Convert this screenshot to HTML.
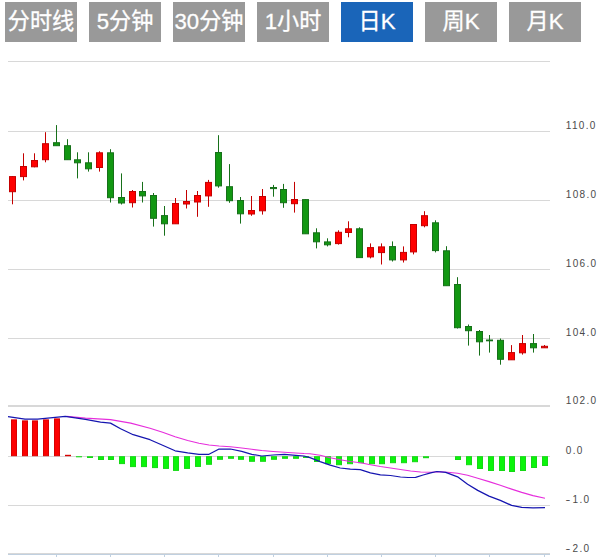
<!DOCTYPE html>
<html lang="zh"><head><meta charset="utf-8"><title>K线图</title>
<style>
html,body{margin:0;padding:0;background:#fff;}
body{width:613px;height:557px;overflow:hidden;position:relative;font-family:"Liberation Sans","Noto Sans CJK SC",sans-serif;}
.tabs{position:absolute;left:5px;top:2px;height:40px;white-space:nowrap;}
.tab{position:absolute;top:0;width:72px;height:39.5px;line-height:39px;background:#999;color:#fff;font-size:22.2px;text-align:center;-webkit-text-stroke:0.3px #fff;}
.tab.on{background:#1a65b9;}
svg{position:absolute;left:0;top:0;}
svg text{font-family:"Liberation Sans",sans-serif;font-size:10px;letter-spacing:1.3px;fill:#4a4a4a;}
</style></head><body>
<div class="tabs">
<div class="tab" style="left:0">分时线</div>
<div class="tab" style="left:84px">5分钟</div>
<div class="tab" style="left:168px">30分钟</div>
<div class="tab" style="left:252px">1小时</div>
<div class="tab on" style="left:336px">日K</div>
<div class="tab" style="left:420px">周K</div>
<div class="tab" style="left:504px">月K</div>
</div>
<svg width="613" height="557" viewBox="0 0 613 557">

<line x1="8" x2="550" y1="61.5" y2="61.5" stroke="#d8d8d8" stroke-width="1"/>
<line x1="8" x2="550" y1="131.5" y2="131.5" stroke="#d8d8d8" stroke-width="1"/>
<line x1="8" x2="550" y1="200.5" y2="200.5" stroke="#d8d8d8" stroke-width="1"/>
<line x1="8" x2="550" y1="269.5" y2="269.5" stroke="#d8d8d8" stroke-width="1"/>
<line x1="8" x2="550" y1="338.5" y2="338.5" stroke="#d8d8d8" stroke-width="1"/>
<line x1="8" x2="550" y1="405.5" y2="405.5" stroke="#d8d8d8" stroke-width="1"/>
<line x1="8" x2="550" y1="456.5" y2="456.5" stroke="#d8d8d8" stroke-width="1"/>
<line x1="8" x2="550" y1="505.5" y2="505.5" stroke="#d8d8d8" stroke-width="1"/>
<line x1="8" x2="550" y1="406.5" y2="406.5" stroke="#d8d8d8" stroke-width="1"/>
<line x1="8" x2="550" y1="553.5" y2="553.5" stroke="#d8d8d8" stroke-width="1"/>
<line x1="8" x2="550" y1="554.5" y2="554.5" stroke="#c0d0e0" stroke-width="1"/>
<line x1="56.5" x2="56.5" y1="554" y2="560" stroke="#c0d0e0" stroke-width="1"/>
<line x1="110.5" x2="110.5" y1="554" y2="560" stroke="#c0d0e0" stroke-width="1"/>
<line x1="164.5" x2="164.5" y1="554" y2="560" stroke="#c0d0e0" stroke-width="1"/>
<line x1="218.5" x2="218.5" y1="554" y2="560" stroke="#c0d0e0" stroke-width="1"/>
<line x1="273.5" x2="273.5" y1="554" y2="560" stroke="#c0d0e0" stroke-width="1"/>
<line x1="327.5" x2="327.5" y1="554" y2="560" stroke="#c0d0e0" stroke-width="1"/>
<line x1="381.5" x2="381.5" y1="554" y2="560" stroke="#c0d0e0" stroke-width="1"/>
<line x1="435.5" x2="435.5" y1="554" y2="560" stroke="#c0d0e0" stroke-width="1"/>
<line x1="489.5" x2="489.5" y1="554" y2="560" stroke="#c0d0e0" stroke-width="1"/>
<line x1="544.5" x2="544.5" y1="554" y2="560" stroke="#c0d0e0" stroke-width="1"/>
<text x="565.8" y="128.6">110.0</text>
<text x="565.8" y="197.6">108.0</text>
<text x="565.8" y="266.6">106.0</text>
<text x="565.8" y="335.7">104.0</text>
<text x="565.8" y="403.6">102.0</text>
<text x="565.8" y="453.8">0.0</text>
<text transform="translate(565.6,503.0) scale(1.45,1)">-</text><text x="572.6" y="503.0">1.0</text>
<text transform="translate(565.6,552.2) scale(1.45,1)">-</text><text x="572.6" y="552.2">2.0</text>
<rect x="11.50" y="419.9" width="5" height="35.8" fill="#fc0000" stroke="#d80000" stroke-width="1"/>
<rect x="22.50" y="420.9" width="5" height="34.8" fill="#fc0000" stroke="#d80000" stroke-width="1"/>
<rect x="32.50" y="420.9" width="5" height="34.8" fill="#fc0000" stroke="#d80000" stroke-width="1"/>
<rect x="43.50" y="419.9" width="5" height="35.8" fill="#fc0000" stroke="#d80000" stroke-width="1"/>
<rect x="54.50" y="418.9" width="5" height="36.8" fill="#fc0000" stroke="#d80000" stroke-width="1"/>
<rect x="65.00" y="454.8" width="6" height="1.4" fill="#d80000"/>
<rect x="76.00" y="456.2" width="6" height="1.1" fill="#16d816"/>
<rect x="87.00" y="456.2" width="6" height="1.8" fill="#16d816"/>
<rect x="98.50" y="456.7" width="5" height="2.8" fill="#0af50a" stroke="#16d816" stroke-width="1"/>
<rect x="108.50" y="456.7" width="5" height="2.8" fill="#0af50a" stroke="#16d816" stroke-width="1"/>
<rect x="119.50" y="456.7" width="5" height="6.9" fill="#0af50a" stroke="#16d816" stroke-width="1"/>
<rect x="130.50" y="456.7" width="5" height="9.9" fill="#0af50a" stroke="#16d816" stroke-width="1"/>
<rect x="141.50" y="456.7" width="5" height="9.9" fill="#0af50a" stroke="#16d816" stroke-width="1"/>
<rect x="152.50" y="456.7" width="5" height="10.9" fill="#0af50a" stroke="#16d816" stroke-width="1"/>
<rect x="163.50" y="456.7" width="5" height="11.7" fill="#0af50a" stroke="#16d816" stroke-width="1"/>
<rect x="173.50" y="456.7" width="5" height="13.7" fill="#0af50a" stroke="#16d816" stroke-width="1"/>
<rect x="184.50" y="456.7" width="5" height="11.7" fill="#0af50a" stroke="#16d816" stroke-width="1"/>
<rect x="195.50" y="456.7" width="5" height="9.7" fill="#0af50a" stroke="#16d816" stroke-width="1"/>
<rect x="206.50" y="456.7" width="5" height="7.6" fill="#0af50a" stroke="#16d816" stroke-width="1"/>
<rect x="217.50" y="456.7" width="5" height="2.6" fill="#0af50a" stroke="#16d816" stroke-width="1"/>
<rect x="228.50" y="456.7" width="5" height="1.6" fill="#0af50a" stroke="#16d816" stroke-width="1"/>
<rect x="238.50" y="456.7" width="5" height="2.6" fill="#0af50a" stroke="#16d816" stroke-width="1"/>
<rect x="249.50" y="456.7" width="5" height="4.6" fill="#0af50a" stroke="#16d816" stroke-width="1"/>
<rect x="260.50" y="456.7" width="5" height="4.6" fill="#0af50a" stroke="#16d816" stroke-width="1"/>
<rect x="271.50" y="456.7" width="5" height="2.6" fill="#0af50a" stroke="#16d816" stroke-width="1"/>
<rect x="282.50" y="456.7" width="5" height="1.6" fill="#0af50a" stroke="#16d816" stroke-width="1"/>
<rect x="293.50" y="456.7" width="5" height="1.6" fill="#0af50a" stroke="#16d816" stroke-width="1"/>
<rect x="303.00" y="456.2" width="6" height="1.8" fill="#16d816"/>
<rect x="314.50" y="456.7" width="5" height="4.8" fill="#0af50a" stroke="#16d816" stroke-width="1"/>
<rect x="325.50" y="456.7" width="5" height="7.0" fill="#0af50a" stroke="#16d816" stroke-width="1"/>
<rect x="336.50" y="456.7" width="5" height="8.0" fill="#0af50a" stroke="#16d816" stroke-width="1"/>
<rect x="347.50" y="456.7" width="5" height="7.0" fill="#0af50a" stroke="#16d816" stroke-width="1"/>
<rect x="358.50" y="456.7" width="5" height="6.0" fill="#0af50a" stroke="#16d816" stroke-width="1"/>
<rect x="369.50" y="456.7" width="5" height="7.0" fill="#0af50a" stroke="#16d816" stroke-width="1"/>
<rect x="379.50" y="456.7" width="5" height="7.0" fill="#0af50a" stroke="#16d816" stroke-width="1"/>
<rect x="390.50" y="456.7" width="5" height="6.0" fill="#0af50a" stroke="#16d816" stroke-width="1"/>
<rect x="401.50" y="456.7" width="5" height="6.0" fill="#0af50a" stroke="#16d816" stroke-width="1"/>
<rect x="412.50" y="456.7" width="5" height="5.0" fill="#0af50a" stroke="#16d816" stroke-width="1"/>
<rect x="423.00" y="456.2" width="6" height="2.0" fill="#16d816"/>
<rect x="455.50" y="456.7" width="5" height="2.8" fill="#0af50a" stroke="#16d816" stroke-width="1"/>
<rect x="466.50" y="456.7" width="5" height="8.0" fill="#0af50a" stroke="#16d816" stroke-width="1"/>
<rect x="477.50" y="456.7" width="5" height="11.8" fill="#0af50a" stroke="#16d816" stroke-width="1"/>
<rect x="488.50" y="456.7" width="5" height="13.8" fill="#0af50a" stroke="#16d816" stroke-width="1"/>
<rect x="499.50" y="456.7" width="5" height="13.8" fill="#0af50a" stroke="#16d816" stroke-width="1"/>
<rect x="509.50" y="456.7" width="5" height="14.8" fill="#0af50a" stroke="#16d816" stroke-width="1"/>
<rect x="520.50" y="456.7" width="5" height="13.8" fill="#0af50a" stroke="#16d816" stroke-width="1"/>
<rect x="531.50" y="456.7" width="5" height="10.8" fill="#0af50a" stroke="#16d816" stroke-width="1"/>
<rect x="542.50" y="456.7" width="5" height="8.8" fill="#0af50a" stroke="#16d816" stroke-width="1"/>
<line x1="12.50" x2="12.50" y1="176.1" y2="204.3" stroke="#c40000" stroke-width="1"/>
<rect x="9.50" y="176.6" width="6" height="15.1" fill="#ff0000" stroke="#c40000" stroke-width="1"/>
<line x1="23.50" x2="23.50" y1="153.3" y2="180.4" stroke="#c40000" stroke-width="1"/>
<rect x="20.50" y="166.5" width="6" height="10.1" fill="#ff0000" stroke="#c40000" stroke-width="1"/>
<line x1="34.50" x2="34.50" y1="153.3" y2="167.3" stroke="#c40000" stroke-width="1"/>
<rect x="31.50" y="160.5" width="6" height="6.3" fill="#ff0000" stroke="#c40000" stroke-width="1"/>
<line x1="45.50" x2="45.50" y1="132.2" y2="162.3" stroke="#c40000" stroke-width="1"/>
<rect x="42.50" y="143.7" width="6" height="16.0" fill="#ff0000" stroke="#c40000" stroke-width="1"/>
<line x1="56.50" x2="56.50" y1="125.1" y2="145.5" stroke="#17701a" stroke-width="1"/>
<rect x="53.50" y="142.7" width="6" height="3.0" fill="#129712" stroke="#17701a" stroke-width="1"/>
<line x1="67.50" x2="67.50" y1="139.2" y2="159.5" stroke="#17701a" stroke-width="1"/>
<rect x="64.50" y="145.7" width="6" height="14.0" fill="#129712" stroke="#17701a" stroke-width="1"/>
<line x1="77.50" x2="77.50" y1="152.3" y2="178.4" stroke="#17701a" stroke-width="1"/>
<rect x="74.50" y="159.8" width="6" height="3.0" fill="#129712" stroke="#17701a" stroke-width="1"/>
<line x1="88.50" x2="88.50" y1="152.3" y2="171.6" stroke="#17701a" stroke-width="1"/>
<rect x="85.50" y="162.8" width="6" height="6.0" fill="#129712" stroke="#17701a" stroke-width="1"/>
<line x1="99.50" x2="99.50" y1="151.3" y2="171.6" stroke="#c40000" stroke-width="1"/>
<rect x="96.50" y="152.8" width="6" height="14.7" fill="#ff0000" stroke="#c40000" stroke-width="1"/>
<line x1="110.50" x2="110.50" y1="149.2" y2="202.5" stroke="#17701a" stroke-width="1"/>
<rect x="107.50" y="152.8" width="6" height="44.9" fill="#129712" stroke="#17701a" stroke-width="1"/>
<line x1="121.50" x2="121.50" y1="173.4" y2="204.5" stroke="#17701a" stroke-width="1"/>
<rect x="118.50" y="197.5" width="6" height="5.5" fill="#129712" stroke="#17701a" stroke-width="1"/>
<line x1="132.50" x2="132.50" y1="190" y2="207.5" stroke="#c40000" stroke-width="1"/>
<rect x="129.50" y="191.5" width="6" height="11.2" fill="#ff0000" stroke="#c40000" stroke-width="1"/>
<line x1="142.50" x2="142.50" y1="181.9" y2="202.5" stroke="#17701a" stroke-width="1"/>
<rect x="139.50" y="191.5" width="6" height="4.4" fill="#129712" stroke="#17701a" stroke-width="1"/>
<line x1="153.50" x2="153.50" y1="193" y2="226.6" stroke="#17701a" stroke-width="1"/>
<rect x="150.50" y="195.5" width="6" height="22.8" fill="#129712" stroke="#17701a" stroke-width="1"/>
<line x1="164.50" x2="164.50" y1="206" y2="235.7" stroke="#17701a" stroke-width="1"/>
<rect x="161.50" y="215.6" width="6" height="8.2" fill="#129712" stroke="#17701a" stroke-width="1"/>
<line x1="175.50" x2="175.50" y1="198" y2="223.6" stroke="#c40000" stroke-width="1"/>
<rect x="172.50" y="203.5" width="6" height="20.3" fill="#ff0000" stroke="#c40000" stroke-width="1"/>
<line x1="186.50" x2="186.50" y1="190" y2="208.5" stroke="#c40000" stroke-width="1"/>
<rect x="183.50" y="201.5" width="6" height="2.5" fill="#ff0000" stroke="#c40000" stroke-width="1"/>
<line x1="197.50" x2="197.50" y1="191" y2="216.8" stroke="#c40000" stroke-width="1"/>
<rect x="194.50" y="195.5" width="6" height="6.5" fill="#ff0000" stroke="#c40000" stroke-width="1"/>
<line x1="208.50" x2="208.50" y1="179.9" y2="206.8" stroke="#c40000" stroke-width="1"/>
<rect x="205.50" y="182.4" width="6" height="13.5" fill="#ff0000" stroke="#c40000" stroke-width="1"/>
<line x1="218.50" x2="218.50" y1="135.2" y2="187.7" stroke="#17701a" stroke-width="1"/>
<rect x="215.50" y="152.5" width="6" height="33.4" fill="#129712" stroke="#17701a" stroke-width="1"/>
<line x1="229.50" x2="229.50" y1="164.1" y2="202.8" stroke="#17701a" stroke-width="1"/>
<rect x="226.50" y="186.7" width="6" height="14.0" fill="#129712" stroke="#17701a" stroke-width="1"/>
<line x1="240.50" x2="240.50" y1="197" y2="223.6" stroke="#17701a" stroke-width="1"/>
<rect x="237.50" y="200.5" width="6" height="13.3" fill="#129712" stroke="#17701a" stroke-width="1"/>
<line x1="251.50" x2="251.50" y1="196" y2="215.8" stroke="#c40000" stroke-width="1"/>
<rect x="248.50" y="210.5" width="6" height="3.5" fill="#ff0000" stroke="#c40000" stroke-width="1"/>
<line x1="262.50" x2="262.50" y1="189" y2="214.6" stroke="#c40000" stroke-width="1"/>
<rect x="259.50" y="196.5" width="6" height="14.3" fill="#ff0000" stroke="#c40000" stroke-width="1"/>
<line x1="273.50" x2="273.50" y1="184.9" y2="196.7" stroke="#17701a" stroke-width="1"/>
<rect x="270.50" y="187.5" width="6" height="1.1" fill="#129712" stroke="#17701a" stroke-width="1"/>
<line x1="283.50" x2="283.50" y1="183.9" y2="207.8" stroke="#17701a" stroke-width="1"/>
<rect x="280.50" y="189.5" width="6" height="13.2" fill="#129712" stroke="#17701a" stroke-width="1"/>
<line x1="294.50" x2="294.50" y1="181.9" y2="212.6" stroke="#c40000" stroke-width="1"/>
<rect x="291.50" y="199.5" width="6" height="4.2" fill="#ff0000" stroke="#c40000" stroke-width="1"/>
<line x1="305.50" x2="305.50" y1="199.1" y2="233.6" stroke="#17701a" stroke-width="1"/>
<rect x="302.50" y="199.6" width="6" height="34.2" fill="#129712" stroke="#17701a" stroke-width="1"/>
<line x1="316.50" x2="316.50" y1="228.3" y2="248.4" stroke="#17701a" stroke-width="1"/>
<rect x="313.50" y="232.8" width="6" height="9.0" fill="#129712" stroke="#17701a" stroke-width="1"/>
<line x1="327.50" x2="327.50" y1="238.3" y2="246.4" stroke="#17701a" stroke-width="1"/>
<rect x="324.50" y="241.9" width="6" height="2.9" fill="#129712" stroke="#17701a" stroke-width="1"/>
<line x1="338.50" x2="338.50" y1="230.3" y2="244.6" stroke="#c40000" stroke-width="1"/>
<rect x="335.50" y="232.3" width="6" height="11.3" fill="#ff0000" stroke="#c40000" stroke-width="1"/>
<line x1="348.50" x2="348.50" y1="221.3" y2="237.3" stroke="#c40000" stroke-width="1"/>
<rect x="345.50" y="228.8" width="6" height="3.7" fill="#ff0000" stroke="#c40000" stroke-width="1"/>
<line x1="359.50" x2="359.50" y1="227.3" y2="257.4" stroke="#17701a" stroke-width="1"/>
<rect x="356.50" y="228.8" width="6" height="28.8" fill="#129712" stroke="#17701a" stroke-width="1"/>
<line x1="370.50" x2="370.50" y1="243.4" y2="258.4" stroke="#c40000" stroke-width="1"/>
<rect x="367.50" y="247.6" width="6" height="9.3" fill="#ff0000" stroke="#c40000" stroke-width="1"/>
<line x1="381.50" x2="381.50" y1="243.4" y2="264.5" stroke="#c40000" stroke-width="1"/>
<rect x="378.50" y="246.9" width="6" height="5.7" fill="#ff0000" stroke="#c40000" stroke-width="1"/>
<line x1="392.50" x2="392.50" y1="241.4" y2="261.5" stroke="#17701a" stroke-width="1"/>
<rect x="389.50" y="246.6" width="6" height="13.3" fill="#129712" stroke="#17701a" stroke-width="1"/>
<line x1="403.50" x2="403.50" y1="246.4" y2="262.5" stroke="#c40000" stroke-width="1"/>
<rect x="400.50" y="252.4" width="6" height="7.5" fill="#ff0000" stroke="#c40000" stroke-width="1"/>
<line x1="413.50" x2="413.50" y1="224" y2="254.4" stroke="#c40000" stroke-width="1"/>
<rect x="410.50" y="224.5" width="6" height="27.4" fill="#ff0000" stroke="#c40000" stroke-width="1"/>
<line x1="424.50" x2="424.50" y1="211.2" y2="227.3" stroke="#c40000" stroke-width="1"/>
<rect x="421.50" y="215.7" width="6" height="10.0" fill="#ff0000" stroke="#c40000" stroke-width="1"/>
<line x1="435.50" x2="435.50" y1="220.3" y2="252.4" stroke="#17701a" stroke-width="1"/>
<rect x="432.50" y="222.8" width="6" height="27.8" fill="#129712" stroke="#17701a" stroke-width="1"/>
<line x1="446.50" x2="446.50" y1="246.2" y2="285.5" stroke="#17701a" stroke-width="1"/>
<rect x="443.50" y="250.8" width="6" height="34.9" fill="#129712" stroke="#17701a" stroke-width="1"/>
<line x1="457.50" x2="457.50" y1="277.2" y2="328.5" stroke="#17701a" stroke-width="1"/>
<rect x="454.50" y="284.5" width="6" height="43.2" fill="#129712" stroke="#17701a" stroke-width="1"/>
<line x1="468.50" x2="468.50" y1="324.5" y2="345.6" stroke="#17701a" stroke-width="1"/>
<rect x="465.50" y="326.5" width="6" height="4.2" fill="#129712" stroke="#17701a" stroke-width="1"/>
<line x1="479.50" x2="479.50" y1="330" y2="355.6" stroke="#17701a" stroke-width="1"/>
<rect x="476.50" y="331.5" width="6" height="10.3" fill="#129712" stroke="#17701a" stroke-width="1"/>
<line x1="489.50" x2="489.50" y1="335" y2="352.6" stroke="#17701a" stroke-width="1"/>
<rect x="486.50" y="340.0" width="6" height="0.8" fill="#129712" stroke="#17701a" stroke-width="1"/>
<line x1="500.50" x2="500.50" y1="338.5" y2="364.7" stroke="#17701a" stroke-width="1"/>
<rect x="497.50" y="340.3" width="6" height="19.0" fill="#129712" stroke="#17701a" stroke-width="1"/>
<line x1="511.50" x2="511.50" y1="345.1" y2="359.6" stroke="#c40000" stroke-width="1"/>
<rect x="508.50" y="352.6" width="6" height="7.2" fill="#ff0000" stroke="#c40000" stroke-width="1"/>
<line x1="522.50" x2="522.50" y1="335" y2="354.6" stroke="#c40000" stroke-width="1"/>
<rect x="519.50" y="343.6" width="6" height="9.2" fill="#ff0000" stroke="#c40000" stroke-width="1"/>
<line x1="533.50" x2="533.50" y1="334" y2="352.6" stroke="#17701a" stroke-width="1"/>
<rect x="530.50" y="343.6" width="6" height="4.2" fill="#129712" stroke="#17701a" stroke-width="1"/>
<line x1="544.50" x2="544.50" y1="345" y2="348" stroke="#c40000" stroke-width="1"/>
<rect x="541.50" y="346.3" width="6" height="1.5" fill="#ff0000" stroke="#c40000" stroke-width="1"/>
<path d="M66.6 416.4 L85.4 418.1 L110.5 419.6 L130.7 423.1 L150.0 428.2 L162.6 432.2 L175.1 436.7 L187.7 440.5 L199.0 443.2 L209.0 445.0 L219.1 446.0 L230.4 446.8 L241.7 448.0 L251.8 449.3 L261.8 450.5 L273.1 451.5 L284.4 452.3 L295.7 453.0 L304.0 453.5 L310.0 453.7 L320.1 455.2 L330.2 457.7 L340.2 459.7 L350.3 461.5 L360.3 462.7 L370.4 464.7 L380.4 466.5 L390.5 468.0 L400.5 469.5 L410.6 471.0 L420.6 472.0 L430.7 472.3 L440.7 471.8 L447.5 472.3 L457.6 473.3 L467.6 475.3 L477.7 478.3 L489.0 481.6 L500.3 485.3 L511.6 489.1 L521.7 492.4 L533.0 495.6 L545.0 498.3" fill="none" stroke="#e62edc" stroke-width="1.15" stroke-linejoin="round"/>
<path d="M8.0 416.6 L25.0 419.1 L37.7 419.1 L65.3 416.4 L85.4 419.4 L100.5 422.1 L110.5 423.1 L120.6 428.7 L133.2 434.7 L150.0 439.7 L162.6 445.3 L175.1 450.8 L187.7 452.8 L199.0 454.3 L209.0 454.3 L219.1 449.0 L230.4 449.0 L241.7 451.3 L251.8 454.3 L261.8 456.0 L273.1 455.0 L284.4 454.3 L295.7 455.3 L304.0 456.0 L310.0 457.7 L320.1 461.7 L330.2 465.2 L340.2 468.0 L350.3 469.2 L360.3 469.7 L370.4 472.8 L380.4 474.8 L390.5 475.5 L400.5 477.0 L408.0 477.5 L415.6 477.3 L423.1 475.0 L430.7 472.8 L436.9 471.5 L445.7 472.3 L457.6 476.8 L467.6 484.3 L477.7 490.4 L489.0 496.1 L500.3 500.4 L511.6 505.4 L521.7 507.4 L533.0 507.8 L545.0 507.6" fill="none" stroke="#1515b0" stroke-width="1.25" stroke-linejoin="round"/>
</svg>
</body></html>
